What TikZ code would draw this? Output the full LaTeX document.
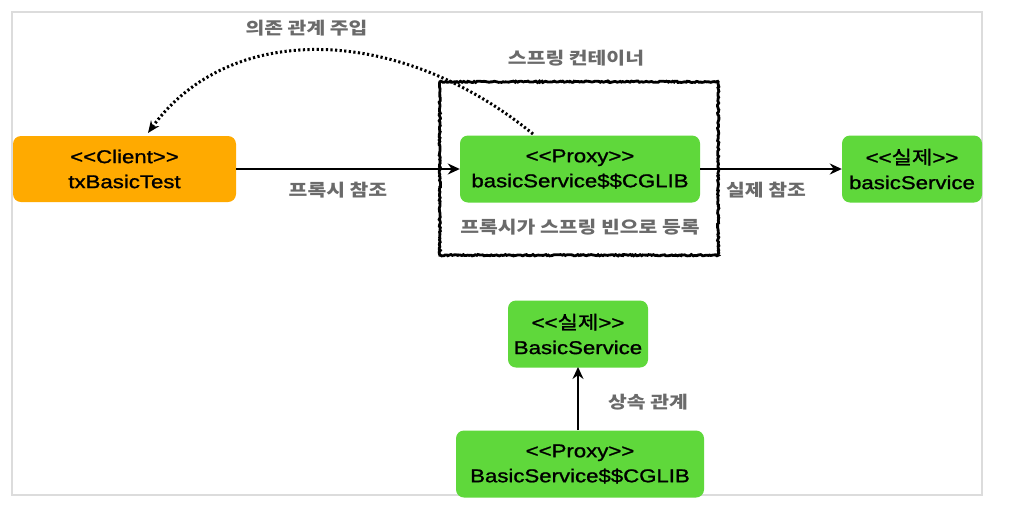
\documentclass[tikz,border=0pt]{standalone}
\usepackage{fontspec}
\setmainfont[FakeStretch=1.2,FakeBold=1.2]{Liberation Sans}
\newfontfamily\kr[FakeStretch=1.2]{Noto Sans CJK KR}
\newfontfamily\krbox[FakeStretch=1.2,FakeBold=1.2]{Noto Sans CJK KR}
\usetikzlibrary{arrows.meta,decorations.pathmorphing}
\definecolor{orangebox}{HTML}{FFAA00}
\definecolor{greenbox}{HTML}{5FD83B}
\definecolor{labelgray}{HTML}{6A6A6A}
\definecolor{framegray}{HTML}{DCDCDC}
\tikzset{
  box/.style={rectangle, rounded corners=8pt, inner sep=0pt, align=center,
    font=\fontsize{18.5}{25}\selectfont, text=black},
  orangeb/.style={box, fill=orangebox},
  greenb/.style={box, fill=greenbox},
  lbl/.style={font=\kr\bfseries\fontsize{17}{19}\selectfont, text=labelgray, inner sep=0pt},
  conn/.style={line width=2.8pt, -{Stealth[length=12pt,width=11pt]}},
  sketch/.style={line width=2.8pt, decorate, decoration={random steps,segment length=1.5pt,amplitude=0.7pt}},
}
\begin{document}
\begin{tikzpicture}[x=1pt,y=-1pt]
\useasboundingbox (0,0) rectangle (1020,504);
\fill[white] (0,0) rectangle (1020,504);
% outer frame
\draw[framegray, line width=1.6pt] (12,12) rectangle (982,495);

% container
\node[minimum width=278pt, minimum height=173pt, inner sep=0pt] (cont) at (579,168.5) {};
\draw[sketch] (cont.south west) rectangle (cont.north east);
\node[lbl] (contlbl) at (576,58) {스프링 컨테이너};
\node[lbl] (reglbl) at (580,227) {프록시가 스프링 빈으로 등록};

% nodes
\node[orangeb, minimum width=223pt, minimum height=66pt] (client) at (124.5,169) {<{}<Client>{}>\\txBasicTest};
\node[greenb, minimum width=240pt, minimum height=67pt] (proxy) at (580,169) {<{}<Proxy>{}>\\basicService\$\$CGLIB};
\node[greenb, minimum width=140pt, minimum height=67pt] (real) at (912,169) {<{}<{\krbox 실제}>{}>\\basicService};
\node[greenb, minimum width=140pt, minimum height=67pt] (breal) at (578,334) {<{}<{\krbox 실제}>{}>\\BasicService};
\node[greenb, minimum width=248pt, minimum height=67pt] (bproxy) at (580,464) {<{}<Proxy>{}>\\BasicService\$\$CGLIB};

% connectors
\draw[conn] (client.east) -- (proxy.west);
\node[lbl] (plbl) at (338,190) {프록시 참조};
\draw[conn] (proxy.east) -- (real.west);
\node[lbl] (rlbl) at (766,190) {실제 참조};
\coordinate (bpt) at (578,430);
\coordinate (brt) at (578,367);
\draw[conn] (bpt) -- (brt);
\node[lbl] (ilbl) at (648,402) {상속 관계};

% dependency injection
\coordinate (dstart) at (533,134);
\coordinate (dend) at (148,133);
\draw[line width=3pt, dash pattern=on 2.2pt off 2.4pt, -{Stealth[length=12pt,width=10pt]}]
  (dstart) .. controls (400,25) and (230,20) .. (dend);
\node[lbl] (dlbl) at (306.5,28) {의존 관계 주입};
\end{tikzpicture}
\end{document}
